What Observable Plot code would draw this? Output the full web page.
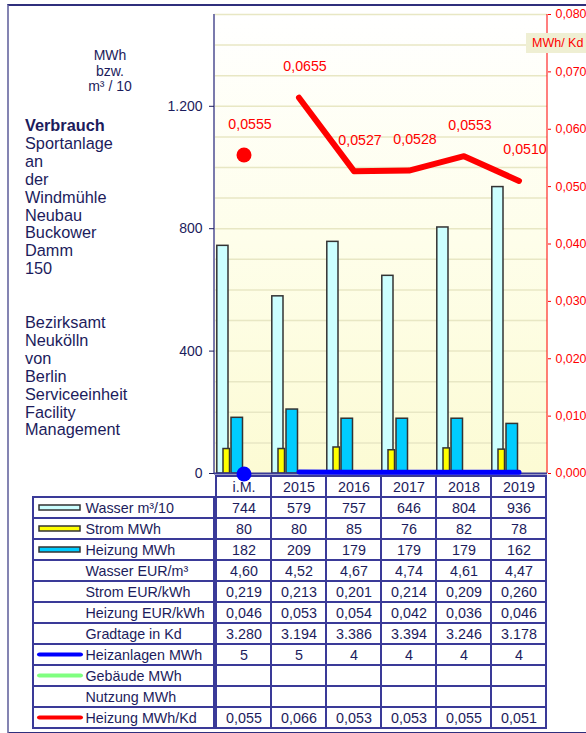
<!DOCTYPE html>
<html><head><meta charset="utf-8">
<script src="https://cdn.jsdelivr.net/npm/d3@7"></script>
<script src="https://cdn.jsdelivr.net/npm/@observablehq/plot@0.6"></script>
<style>
body{margin:0;background:#fff;font-family:"Liberation Sans",Arial,sans-serif;}
#wrap{position:relative;width:586px;height:733px;overflow:hidden;}
.abs{position:absolute;}
#unit{left:50px;top:48px;width:120px;text-align:center;font-size:14px;line-height:15.5px;color:#1c1c5c;}
#title{left:25px;top:117px;font-size:16.3px;line-height:17.9px;color:#1c1c5c;white-space:nowrap;}
#rlabel{left:526px;top:33px;width:60px;height:20px;background:#efefd3;color:#ff0000;font-size:12.5px;line-height:20px;padding-left:6px;box-sizing:border-box;white-space:nowrap;}
</style></head><body>
<div id="wrap">
  <div class="abs" style="left:7px;top:4px;width:640px;height:726px;border-top:2px solid #2f2f7c;border-left:2px solid #8484b2;border-bottom:2px solid #2f2f7c;"></div>
  <div id="tbl" class="abs" style="left:0;top:472px"></div>
  <div id="chart" class="abs" style="left:0;top:0"></div>
  <div id="unit" class="abs">MWh<br>bzw.<br>m³ / 10</div>
  <div id="title" class="abs"><b>Verbrauch</b><br>Sportanlage<br>an<br>der<br>Windmühle<br>Neubau<br>Buckower<br>Damm<br>150<br><br><br>Bezirksamt<br>Neukölln<br>von<br>Berlin<br>Serviceeinheit<br>Facility<br>Management</div>
  <div id="rlabel" class="abs">MWh/ Kd</div>
</div>
<script>
// ---- data ----
const categories = ["i.M.", "2015", "2016", "2017", "2018", "2019"];
const wasser = [744, 579, 757, 646, 804, 936];          // m³/10
const strom = [80, 80, 85, 76, 82, 78];                  // MWh
const heizung = [182, 209, 179, 179, 179, 162];          // MWh
const wasserEur = [4.60, 4.52, 4.67, 4.74, 4.61, 4.47];
const stromEur = [0.219, 0.213, 0.201, 0.214, 0.209, 0.260];
const heizungEur = [0.046, 0.053, 0.054, 0.042, 0.036, 0.046];
const gradtage = [3280, 3194, 3386, 3394, 3246, 3178];
const heizanlagen = [5, 5, 4, 4, 4, 4];
const gebaeude = [null, null, null, null, null, null];
const nutzung = [null, null, null, null, null, null];
const heizungKd = [0.0555, 0.0655, 0.0527, 0.0528, 0.0553, 0.0510];
const heizungKdTable = [0.055, 0.066, 0.053, 0.053, 0.055, 0.051];
const leftTicks = [0, 400, 800, 1200];
const rightTicks = [0, 0.01, 0.02, 0.03, 0.04, 0.05, 0.06, 0.07, 0.08];
const rowNames = ["Wasser m³/10", "Strom MWh", "Heizung MWh", "Wasser EUR/m³", "Strom EUR/kWh",
  "Heizung EUR/kWh", "Gradtage in Kd", "Heizanlagen MWh", "Gebäude MWh", "Nutzung MWh", "Heizung MWh/Kd"];

// ---- helpers ----
const de = d3.formatLocale({decimal: ",", thousands: ".", grouping: [3], currency: ["", "€"]});
const leftMax = 1500, rightMax = 0.08, K = leftMax / rightMax;
const navy = "#1c1c5c", border = "#3a3a98";
const font = "'Liberation Sans', Arial, sans-serif";

const data = categories.map((cat, i) => ({
  cat, wasser: wasser[i], strom: strom[i], heizung: heizung[i],
  heizanlagen: heizanlagen[i], kd: heizungKd[i]
}));
const dataIM = data.filter(d => d.cat === "i.M.");
const dataYears = data.filter(d => d.cat !== "i.M.");

// ---- chart ----
const chart = Plot.plot({
  width: 586, height: 473,
  marginLeft: 214, marginRight: 39, marginTop: 14, marginBottom: 0,
  x: {type: "band", domain: categories, padding: 0, axis: null},
  y: {domain: [0, leftMax], axis: null},
  style: {background: "transparent", fontFamily: font, fontSize: "14px", overflow: "visible"},
  marks: [
    Plot.frame({fill: "url(#bgGrad)", stroke: "none"}),
    Plot.gridY(d3.range(0, leftMax + 1, 100), {stroke: "#e8e7c4", strokeOpacity: 1, strokeWidth: 1.5}),
    Plot.barY(data, {x: "cat", y: "wasser", fill: "#ccffff", stroke: "#333", strokeWidth: 1.5, insetLeft: 0.8, insetRight: 43}),
    Plot.barY(data, {x: "cat", y: "strom", fill: "#ffff00", stroke: "#333", strokeWidth: 1.5, insetLeft: 7, insetRight: 41.5}),
    Plot.barY(data, {x: "cat", y: "heizung", fill: "#00ccff", stroke: "#333", strokeWidth: 1.5, insetLeft: 15, insetRight: 28.5}),
    Plot.barY([0], {y1: 0, y2: leftMax, insetLeft: -1, insetRight: 332, fill: "#7a7aac"}),
    Plot.barY([0], {y1: 0, y2: leftMax, insetLeft: 332.5, insetRight: -0.5, fill: "#ff0000"}),
    Plot.ruleY([0], {stroke: border, strokeWidth: 2}),
    Plot.axisY({anchor: "left", ticks: leftTicks, tickFormat: d => de.format(",")(d), tickSize: 5, tickPadding: 7, fontSize: 14, color: navy}),
    Plot.axisY({anchor: "right", ticks: rightTicks.map(v => v * K), tickFormat: d => de.format(".3f")(d / K), tickSize: 3, tickPadding: 5, fontSize: 12.4, color: "#ff0000"}),
    Plot.line(dataYears, {x: "cat", y: "heizanlagen", stroke: "#0000ff", strokeWidth: 5}),
    Plot.dot(dataIM, {x: "cat", y: "heizanlagen", r: 7.5, fill: "#0000ff", dy: 2}),
    Plot.line(dataYears, {x: "cat", y: d => d.kd * K, stroke: "#ff0000", strokeWidth: 6, strokeLinecap: "round", strokeLinejoin: "round"}),
    Plot.dot(dataIM, {x: "cat", y: d => d.kd * K, r: 7.5, fill: "#ff0000"}),
    Plot.text(data, {x: "cat", y: d => d.kd * K, text: d => de.format(".4f")(d.kd), dx: 6, dy: -31, fill: "#ff0000", fontSize: 14.2})
  ]
});
const ns = "http://www.w3.org/2000/svg";
const defs = document.createElementNS(ns, "defs");
defs.innerHTML = '<linearGradient id="bgGrad" x1="0" y1="0" x2="0" y2="1"><stop offset="0" stop-color="#ffffff"/><stop offset="0.5" stop-color="#fefeea"/><stop offset="1" stop-color="#fcfbd4"/></linearGradient>';
chart.insertBefore(defs, chart.firstChild);
document.getElementById("chart").appendChild(chart);

// ---- table ----
const fmtInt = de.format("d");
const rowsValues = [
  [rowNames[0], wasser, fmtInt],
  [rowNames[1], strom, fmtInt],
  [rowNames[2], heizung, fmtInt],
  [rowNames[3], wasserEur, de.format(".2f")],
  [rowNames[4], stromEur, de.format(".3f")],
  [rowNames[5], heizungEur, de.format(".3f")],
  [rowNames[6], gradtage, de.format(",")],
  [rowNames[7], heizanlagen, fmtInt],
  [rowNames[8], gebaeude, fmtInt],
  [rowNames[9], nutzung, fmtInt],
  [rowNames[10], heizungKdTable, de.format(".3f")]
];
const cells = [];
categories.forEach(cat => cells.push({cat, row: "hdr", text: cat}));
rowsValues.forEach(([row, vals, f]) => vals.forEach((v, i) =>
  cells.push({cat: categories[i], row, text: v == null ? "" : f(v)})));

const rectSwatches = [
  {row: rowNames[0], color: "#ccffff"},
  {row: rowNames[1], color: "#ffff00"},
  {row: rowNames[2], color: "#00ccff"}
];
const lineSwatches = [
  {row: rowNames[7], color: "#0000ff"},
  {row: rowNames[8], color: "#80ff80"},
  {row: rowNames[10], color: "#ff0000"}
];

const table = Plot.plot({
  width: 586, height: 261,
  marginLeft: 214, marginRight: 39, marginTop: 0, marginBottom: 1,
  x: {type: "band", domain: categories, padding: 0, axis: null},
  y: {type: "band", domain: ["hdr", ...rowNames], padding: 0, axis: null},
  style: {background: "transparent", fontFamily: font, fontSize: "14px", overflow: "visible"},
  marks: [
    Plot.cell(cells, {x: "cat", y: "row", fill: "white", stroke: border, strokeWidth: 2}),
    Plot.cell(rowNames, {y: d => d, insetLeft: -181, insetRight: 333, fill: "white", stroke: border, strokeWidth: 2}),
    Plot.cell(rectSwatches, {y: "row", insetLeft: -175, insetRight: 467, insetTop: 8, insetBottom: 8, fill: "color", stroke: "#333", strokeWidth: 1.5}),
    Plot.cell(lineSwatches, {y: "row", insetLeft: -177, insetRight: 464, insetTop: 8.4, insetBottom: 8.4, fill: "color", rx: 2.5}),
    Plot.text(cells, {x: "cat", y: "row", text: "text", fill: navy, fontSize: 14.3}),
    Plot.text(rowNames, {y: d => d, text: d => d, frameAnchor: "left", dx: -129, textAnchor: "start", fill: navy, fontSize: 14.3})
  ]
});
document.getElementById("tbl").appendChild(table);
</script>
</body></html>
